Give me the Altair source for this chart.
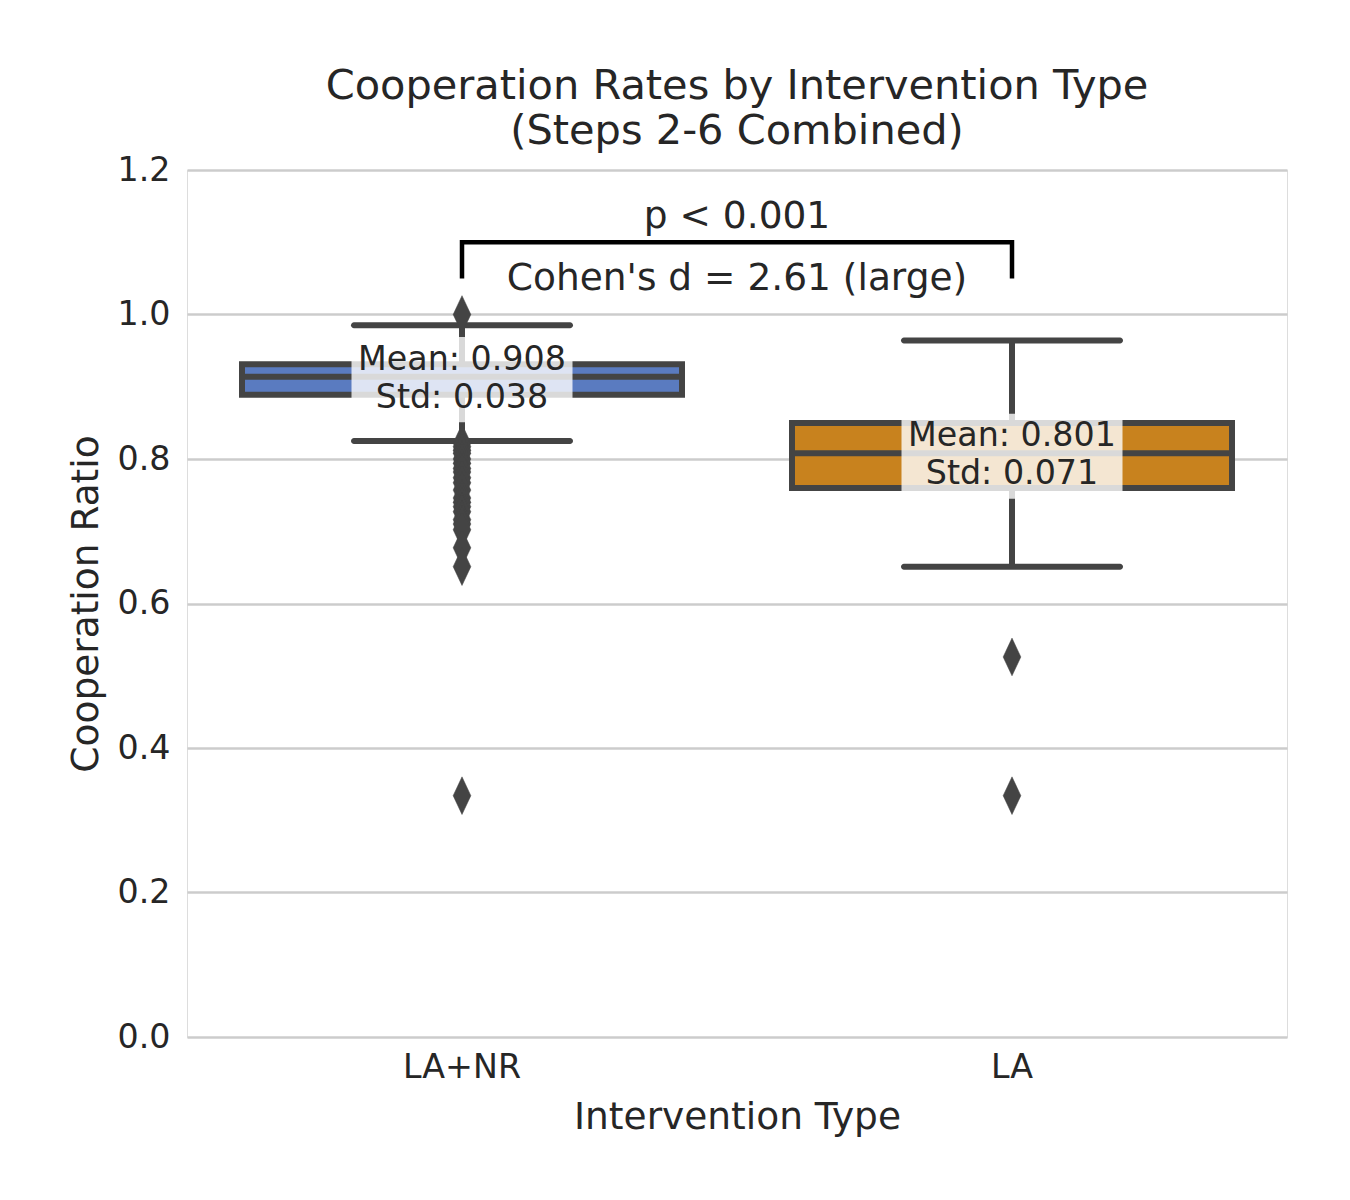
import altair as alt
import pandas as pd

# ---------------- data ----------------
cats = ["LA+NR", "LA"]
q1 = [0.889, 0.760]
median = [0.914, 0.808]
q3 = [0.931, 0.850]
whisker_lo = [0.825, 0.651]
whisker_hi = [0.985, 0.964]
means = [0.908, 0.801]
stds = [0.038, 0.071]
colors = ["#5a7bc0", "#c8821e"]

outliers_lanr = [1.000, 0.822, 0.817, 0.812, 0.808, 0.800, 0.794, 0.787, 0.782,
                 0.774, 0.767, 0.757, 0.746, 0.740, 0.734, 0.727, 0.716, 0.710,
                 0.702, 0.677, 0.651, 0.334]
outliers_la = [0.526, 0.334]

bracket_low = 1.05
bracket_high = 1.10
p_text = "p < 0.001"
d_text = "Cohen's d = 2.61 (large)"
p_text_y = 1.12
d_text_y = 1.034

W, H = 1100, 867
FONT = "DejaVu Sans"
TXT = "#262626"
EDGE = "#444444"

stats = pd.DataFrame({
    "cat": cats, "q1": q1, "med": median, "q3": q3,
    "lo": whisker_lo, "hi": whisker_hi,
    "label": [f"Mean: {m:.3f}\nStd: {s:.3f}" for m, s in zip(means, stds)],
})
out = pd.DataFrame({
    "cat": ["LA+NR"] * len(outliers_lanr) + ["LA"] * len(outliers_la),
    "v": outliers_lanr + outliers_la,
})
bracket = pd.DataFrame({
    "cat": [cats[0], cats[0], cats[1], cats[1]],
    "v": [bracket_low, bracket_high, bracket_high, bracket_low],
    "o": [0, 1, 2, 3],
})
notes = pd.DataFrame({"t": [p_text, d_text], "v": [p_text_y, d_text_y]})

xscale = alt.Scale(domain=cats, paddingInner=0, paddingOuter=0)
yscale = alt.Scale(domain=[0, 1.2], nice=False, zero=False)

xaxis = alt.Axis(title="Intervention Type", labelAngle=0, ticks=False,
                 domain=False, grid=False, labelPadding=14,
                 labelFontSize=33.3, labelColor=TXT, labelFont=FONT,
                 titleFontSize=37.5, titleColor=TXT, titleFont=FONT,
                 titleFontWeight="normal", titleX=W / 2, titleY=91,
                 titleBaseline="alphabetic", titleAlign="center")
X = alt.X("cat:N", scale=xscale, sort=cats, axis=xaxis)

yaxis = alt.Axis(title="Cooperation Ratio", values=[0, 0.2, 0.4, 0.6, 0.8, 1.0, 1.2],
                 format=".1f", ticks=False, domain=False, grid=True,
                 gridColor="#cccccc", gridWidth=2.5, labelPadding=17,
                 labelFontSize=33.3, labelColor=TXT, labelFont=FONT,
                 titleFontSize=37.5, titleColor=TXT, titleFont=FONT,
                 titleFontWeight="normal", titleX=-90, titleY=H / 2,
                 titleAngle=270, titleBaseline="alphabetic",
                 titleAlign="center")


def Yq(field):
    return alt.Y(field, scale=yscale, axis=yaxis, title="Cooperation Ratio")


base = alt.Chart(stats)

whisk_up = base.mark_rule(color=EDGE, strokeWidth=6).encode(
    x=X, y=Yq("q3:Q"), y2="hi:Q")
whisk_dn = base.mark_rule(color=EDGE, strokeWidth=6).encode(
    x=X, y=Yq("lo:Q"), y2="q1:Q")
boxes = base.mark_bar(width=440, stroke=EDGE, strokeWidth=6, opacity=1).encode(
    x=X, y=Yq("q1:Q"), y2="q3:Q",
    color=alt.Color("cat:N", scale=alt.Scale(domain=cats, range=colors), legend=None))
med_tick = base.mark_tick(color=EDGE, thickness=6, size=440, opacity=1).encode(
    x=X, y=Yq("med:Q"))
cap_hi = base.mark_tick(color=EDGE, thickness=6, size=222, cornerRadius=3, opacity=1).encode(
    x=X, y=Yq("hi:Q"))
cap_lo = base.mark_tick(color=EDGE, thickness=6, size=222, cornerRadius=3, opacity=1).encode(
    x=X, y=Yq("lo:Q"))

diamond = "M0,-1L0.47,0L0,1L-0.47,0Z"
outs = alt.Chart(out).mark_point(shape=diamond, filled=True, fill=EDGE, stroke=EDGE,
                                 strokeWidth=0.5, size=1420, opacity=1).encode(
    x=X, y=Yq("v:Q"))

rect_shape = "M-1,-0.385L1,-0.385L1,0.385L-1,0.385Z"
bg = base.mark_point(shape=rect_shape, filled=True, fill="white", strokeWidth=0,
                     size=221 ** 2, opacity=0.8, yOffset=3).encode(
    x=X, y=Yq("med:Q"))
labels = base.mark_text(font=FONT, fontSize=33.3, color=TXT, lineBreak="\n",
                        lineHeight=38, baseline="middle", align="center", dy=-17).encode(
    x=X, y=Yq("med:Q"), text="label:N")

br = alt.Chart(bracket).mark_line(color="black", strokeWidth=4.5, strokeCap="butt",
                                  strokeJoin="miter").encode(
    x=X, y=Yq("v:Q"), order="o:Q")
note_txt = alt.Chart(notes).mark_text(font=FONT, fontSize=37.5, color=TXT,
                                      baseline="alphabetic", align="center").encode(
    x=alt.value(W / 2), y=Yq("v:Q"), text="t:N")

chart = alt.layer(whisk_up, whisk_dn, boxes, med_tick, cap_hi, cap_lo, outs,
                  bg, labels, br, note_txt).properties(
    width=W, height=H,
    title=alt.TitleParams(["Cooperation Rates by Intervention Type", "(Steps 2-6 Combined)"],
                          fontSize=41.5, font=FONT, fontWeight="normal", color=TXT,
                          lineHeight=45, offset=1, anchor="middle"),
    autosize=alt.AutoSizeParams(type="none"),
    padding={"left": 179, "top": 162, "right": 55, "bottom": 155},
).configure_view(stroke="#cccccc", strokeWidth=4).configure(background="white")

chart.save("out.html", embed_options={"renderer": "svg", "actions": False})
